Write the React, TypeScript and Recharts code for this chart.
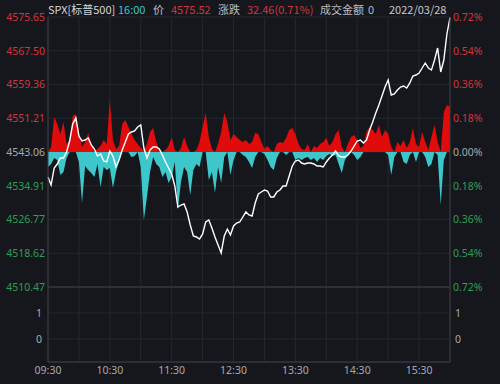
import React from 'react';
import { ComposedChart, LineChart, Line, Area, XAxis, YAxis, CartesianGrid, ReferenceLine } from 'recharts';

// ---------- data ----------
const priceValues = [
  4537.02, 4535.09, 4539.2, 4540.16, 4541.61, 4541.61, 4543.06, 4545.72, 4549.82, 4551.27,
  4546.92, 4545.72, 4545.96, 4546.44, 4544.75, 4543.78, 4542.09, 4542.58, 4540.89, 4540.65,
  4543.3, 4542.09, 4539.44, 4541.13, 4543.54, 4545.47, 4547.4, 4547.89, 4548.13, 4549.09,
  4549.58, 4544.03, 4541.61, 4543.54, 4544.27, 4544.27, 4543.78, 4542.34, 4540.65, 4539.2,
  4537.75, 4534.85, 4529.78, 4530.26, 4530.51, 4528.58, 4525.44, 4522.78, 4522.54, 4522.06,
  4523.26, 4526.16, 4526.64, 4524.71, 4522.54, 4520.61, 4518.68, 4522.78, 4524.47, 4523.02,
  4525.2, 4525.92, 4526.16, 4527.37, 4528.58, 4527.85, 4527.61, 4530.75, 4532.92, 4533.4,
  4533.89, 4533.64, 4532.2, 4532.2, 4533.4, 4533.89, 4534.85, 4534.85, 4537.27, 4539.68,
  4540.89, 4541.13, 4540.4, 4540.16, 4540.4, 4540.4, 4540.16, 4539.68, 4539.68, 4539.44,
  4540.65, 4541.61, 4542.34, 4543.3, 4542.09, 4541.85, 4541.85, 4542.34, 4543.3, 4544.51,
  4545.72, 4545.96, 4545.23, 4545.96, 4548.37, 4550.3, 4552.47, 4554.41, 4556.58, 4558.75,
  4560.44, 4556.82, 4557.06, 4558.03, 4558.75, 4558.99, 4558.51, 4559.72, 4561.41, 4561.65,
  4562.13, 4563.34, 4564.55, 4563.34, 4562.86, 4565.27, 4568.17, 4562.37, 4565.27, 4571.55,
  4575.52,
];

// buying force (red, up) and selling force (cyan, down), in force units
const buyForce = [
  0, 5, 35, 28, 18, 30, 8, 12, 36, 38,
  20, 5, 10, 19, 8, 0, 3, 6, 12, 8,
  52, 12, 3, 6, 28, 32, 25, 18, 12, 8,
  4, 2, 8, 20, 24, 10, 3, 0, 2, 6,
  15, 2, 0, 4, 15, 6, 0, 0, 2, 10,
  25, 39, 15, 3, 0, 8, 20, 39, 30, 12,
  18, 15, 12, 10, 12, 8, 10, 19, 18, 10,
  3, 6, 2, 0, 8, 10, 9, 14, 22, 24,
  18, 8, 3, 2, 8, 0, 6, 4, 8, 10,
  14, 6, 10, 18, 22, 5, 0, 8, 15, 17,
  12, 4, 6, 20, 25, 22, 18, 27, 15, 22,
  18, 5, 0, 10, 6, 12, 4, 10, 24, 8,
  5, 20, 10, 2, 15, 27, 10, 0, 40, 47,
  45,
];
const sellForce = [
  15, 12, 6, 8, 23, 20, 6, 0, 0, 0,
  10, 51, 14, 18, 21, 25, 12, 35, 15, 18,
  16, 36, 20, 8, 0, 0, 0, 5, 4, 0,
  15, 68, 45, 20, 5, 12, 15, 25, 20, 31,
  25, 10, 58, 30, 15, 20, 43, 18, 12, 15,
  0, 0, 28, 20, 41, 15, 31, 5, 0, 23,
  8, 0, 0, 3, 5, 10, 16, 5, 0, 0,
  2, 8, 15, 18, 6, 0, 0, 3, 0, 0,
  8, 6, 8, 6, 5, 8, 6, 10, 6, 8,
  4, 2, 4, 3, 12, 21, 8, 3, 0, 3,
  8, 5, 0, 0, 0, 0, 0, 0, 0, 0,
  3, 23, 5, 0, 0, 10, 12, 3, 0, 10,
  0, 0, 5, 15, 12, 0, 3, 53, 8, 0,
  0,
];

const SAMPLE_STEP_MIN = 3;
const SESSION_MIN = 390;
const TURNOVER = 0; // 成交金额 0
const priceTicks = [4575.65, 4567.5, 4559.36, 4551.21, 4543.06, 4534.91, 4526.77, 4518.62, 4510.47];
const prevClose = 4543.06;
const pctTicks = [0.72, 0.54, 0.36, 0.18, 0, -0.18, -0.36, -0.54, -0.72];
const timeTickMinutes = [0, 60, 120, 180, 240, 300, 360];
const timeTickLabels = ['09:30', '10:30', '11:30', '12:30', '13:30', '14:30', '15:30'];
const gridMinutes = [0, 30, 60, 90, 120, 150, 180, 210, 240, 270, 300, 330, 360, 390];
const volTicks = [0, 1];
const volDomain = [-0.885, 2];
// one force unit expressed in index points (force panel shares the price panel)
const FORCE_UNIT = (priceTicks[0] - priceTicks[priceTicks.length - 1]) / 270;

const rows = priceValues.map((p, i) => ({
  t: i * SAMPLE_STEP_MIN,
  price: p,
  pct: ((p - prevClose) / prevClose) * 100,
  buy: prevClose + buyForce[i] * FORCE_UNIT,
  sell: prevClose - sellForce[i] * FORCE_UNIT,
  vol: TURNOVER,
}));

// ---------- style ----------
const BG = '#16171c';
const RED = '#d0363e';
const GREEN = '#2f9e55';
const GRAY = '#a8a8ac';
const GRID = '#262830';
const AXIS = '#3b3d45';
const FONT = '"Noto Sans", "Noto Sans CJK SC", sans-serif';

const vGen = (args: any) => {
  const { xAxis, offset } = args || {};
  const sc = xAxis && xAxis.scale;
  return gridMinutes.map((m) =>
    typeof sc === 'function' ? sc(m) : offset.left + (m / SESSION_MIN) * offset.width,
  );
};

const PriceTick = (props: any) => {
  const { x, y, payload } = props;
  const v = Number(payload.value);
  const fill = v > prevClose + 0.001 ? RED : v < prevClose - 0.001 ? GREEN : GRAY;
  return (
    <text x={x} y={y} dy={3.8} textAnchor="end" fill={fill} fontSize={10.5} fontFamily={FONT}>
      {v.toFixed(2)}
    </text>
  );
};

const PctTick = (props: any) => {
  const { x, y, payload } = props;
  const v = Number(payload.value);
  const fill = v > 0.0001 ? RED : v < -0.0001 ? GREEN : GRAY;
  return (
    <text x={x} y={y} dy={3.8} textAnchor="start" fill={fill} fontSize={10.5} fontFamily={FONT}>
      {Math.abs(v).toFixed(2) + '%'}
    </text>
  );
};

const VolTick = (props: any) => {
  const { x, y, payload, textAnchor } = props;
  return (
    <text x={x} y={y} dy={3.8} textAnchor={textAnchor} fill={GRAY} fontSize={10.5} fontFamily={FONT}>
      {String(payload.value)}
    </text>
  );
};

const titleParts: { text: string; x: number; color: string }[] = [
  { text: 'SPX[标普500]', x: 48, color: '#d6d6d8' },
  { text: '16:00', x: 118, color: '#3fc3c8' },
  { text: '价', x: 153, color: '#bdbdc0' },
  { text: '4575.52', x: 171, color: RED },
  { text: '涨跌', x: 218, color: '#bdbdc0' },
  { text: '32.46(0.71%)', x: 247, color: RED },
  { text: '成交金额', x: 320, color: '#bdbdc0' },
  { text: '0', x: 368, color: '#bdbdc0' },
  { text: '2022/03/28', x: 389, color: '#c8c8cb' },
];

export default function App() {
  return (
    <div style={{ position: 'fixed', left: 0, top: 0, width: 500, height: 384, background: BG, overflow: 'hidden' }}>
      {titleParts.map((p) => (
        <div
          key={p.text}
          style={{
            position: 'absolute',
            left: p.x,
            top: 1,
            height: 16,
            lineHeight: '16px',
            fontSize: 11,
            fontFamily: '"Noto Sans CJK SC", "Noto Sans", sans-serif',
            color: p.color,
            whiteSpace: 'nowrap',
          }}
        >
          {p.text}
        </div>
      ))}

      <div style={{ position: 'absolute', left: 0, top: 287 }}>
        <LineChart width={500} height={97} data={rows} margin={{ top: 0, right: 0, bottom: 0, left: 0 }}>
          <XAxis
            dataKey="t"
            type="number"
            domain={[0, SESSION_MIN]}
            ticks={timeTickMinutes}
            tickFormatter={(v: number) => timeTickLabels[timeTickMinutes.indexOf(v)] ?? ''}
            height={22}
            tickSize={3}
            tickLine={false}
            tickMargin={2}
            axisLine={{ stroke: AXIS }}
            tick={{ fill: GRAY, fontSize: 10.5, fontFamily: FONT }}
            interval={0}
          />
          <YAxis
            yAxisId="v"
            orientation="left"
            width={48}
            domain={volDomain}
            ticks={volTicks}
            interval={0}
            tickSize={3}
            tickLine={false}
            tickMargin={3}
            axisLine={{ stroke: AXIS }}
            tick={<VolTick />}
          />
          <YAxis
            yAxisId="v2"
            orientation="right"
            width={50}
            domain={volDomain}
            ticks={volTicks}
            interval={0}
            tickSize={3}
            tickLine={false}
            tickMargin={2}
            axisLine={{ stroke: AXIS }}
            tick={<VolTick />}
          />
          <CartesianGrid yAxisId="v" stroke={GRID} verticalCoordinatesGenerator={vGen} />
          <Line yAxisId="v" dataKey="vol" stroke="none" dot={false} isAnimationActive={false} />
          <Line yAxisId="v2" dataKey="vol" stroke="none" dot={false} isAnimationActive={false} />
        </LineChart>
      </div>

      <div style={{ position: 'absolute', left: 0, top: 0 }}>
        <ComposedChart width={500} height={300} data={rows} margin={{ top: 17, right: 0, bottom: 13, left: 0 }}>
          <XAxis dataKey="t" type="number" domain={[0, SESSION_MIN]} hide />
          <YAxis
            yAxisId="p"
            orientation="left"
            width={48}
            domain={[priceTicks[priceTicks.length - 1], priceTicks[0]]}
            ticks={priceTicks}
            interval={0}
            tickSize={3}
            tickMargin={0}
            axisLine={{ stroke: AXIS }}
            tickLine={false}
            tick={<PriceTick />}
          />
          <YAxis
            yAxisId="pct"
            orientation="right"
            width={50}
            domain={[-0.72, 0.72]}
            ticks={pctTicks}
            interval={0}
            tickSize={3}
            tickMargin={0}
            axisLine={{ stroke: AXIS }}
            tickLine={false}
            tick={<PctTick />}
          />
          <CartesianGrid yAxisId="p" stroke={GRID} verticalCoordinatesGenerator={vGen} />
          <ReferenceLine yAxisId="p" y={priceTicks[priceTicks.length - 1]} stroke={AXIS} />
          <Area
            yAxisId="p"
            type="linear"
            dataKey="buy"
            baseValue={prevClose}
            stroke="none"
            fill="#e00c0c"
            fillOpacity={1}
            isAnimationActive={false}
          />
          <Area
            yAxisId="p"
            type="linear"
            dataKey="sell"
            baseValue={prevClose}
            stroke="none"
            fill="#3ec7cb"
            fillOpacity={1}
            isAnimationActive={false}
          />
          <Line yAxisId="pct" dataKey="pct" stroke="none" dot={false} isAnimationActive={false} />
          <Line
            yAxisId="p"
            type="linear"
            dataKey="price"
            stroke="#ffffff"
            strokeWidth={1.4}
            dot={false}
            isAnimationActive={false}
          />
        </ComposedChart>
      </div>
    </div>
  );
}
